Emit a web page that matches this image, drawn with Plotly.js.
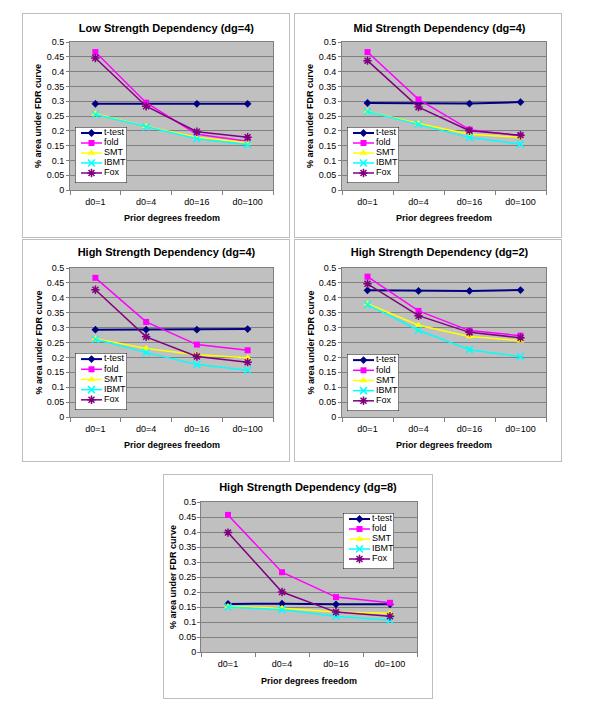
<!DOCTYPE html>
<html>
<head>
<meta charset="utf-8">
<script src="https://cdn.plot.ly/plotly-3.0.1.min.js"></script>
<style>
  html, body { margin: 0; padding: 0; background: #ffffff; }
  body { width: 600px; height: 713px; position: relative; overflow: hidden; }
  .panel { position: absolute; border: 1px solid #bdbdbd; background: #ffffff; }
</style>
</head>
<body>
<div id="p1" class="panel"></div>
<div id="p2" class="panel"></div>
<div id="p3" class="panel"></div>
<div id="p4" class="panel"></div>
<div id="p5" class="panel"></div>
<script>
// ---------------- DATA ----------------
const categories = ['d0=1', 'd0=4', 'd0=16', 'd0=100'];
const seriesNames = ['t-test', 'fold', 'SMT', 'IBMT', 'Fox'];

// each row follows seriesNames order: t-test, fold, SMT, IBMT, Fox
const lowDg4 = [
  [0.291, 0.291, 0.291, 0.291],
  [0.466, 0.295, 0.188, 0.165],
  [0.258, 0.215, 0.178, 0.160],
  [0.255, 0.213, 0.173, 0.153],
  [0.446, 0.283, 0.197, 0.178]
];
const midDg4 = [
  [0.294, 0.294, 0.292, 0.297],
  [0.466, 0.306, 0.204, 0.183],
  [0.265, 0.225, 0.188, 0.178],
  [0.265, 0.222, 0.177, 0.155],
  [0.437, 0.280, 0.200, 0.185]
];
const highDg4 = [
  [0.293, 0.293, 0.293, 0.295],
  [0.467, 0.319, 0.243, 0.224],
  [0.263, 0.230, 0.209, 0.199],
  [0.261, 0.216, 0.176, 0.157],
  [0.427, 0.269, 0.203, 0.184]
];
const highDg2 = [
  [0.425, 0.423, 0.423, 0.426],
  [0.471, 0.356, 0.290, 0.273],
  [0.380, 0.308, 0.270, 0.256],
  [0.377, 0.291, 0.226, 0.202],
  [0.447, 0.340, 0.284, 0.266]
];
const highDg8 = [
  [0.160, 0.161, 0.159, 0.159],
  [0.457, 0.266, 0.183, 0.164],
  [0.152, 0.146, 0.133, 0.129],
  [0.150, 0.141, 0.119, 0.106],
  [0.398, 0.200, 0.133, 0.119]
];
const panelTitles = [
  'Low Strength Dependency (dg=4)',
  'Mid Strength Dependency (dg=4)',
  'High Strength Dependency (dg=4)',
  'High Strength Dependency (dg=2)',
  'High Strength Dependency (dg=8)'
];
const xAxisTitle = 'Prior degrees freedom';
const yAxisTitle = '% area under FDR curve';

// ---------------- STYLE ----------------
const seriesColors = ['#000080', '#FF00FF', '#FFFF00', '#00FFFF', '#800080'];
const seriesSymbols = ['diamond', 'square', 'triangle-up', 'x-thin-open', 'asterisk-open'];
const seriesSizes = [6, 6, 7, 7, 7];
const FONT = 'Liberation Sans, Arial, sans-serif';

// panel geometry: outer box and inner plot-area margins, legend box (px, relative to panel content)
const panels = [
  {id: 'p1', data: lowDg4,  left: 22,  top: 13,  w: 266, h: 223, m: {l: 47, r: 16, t: 28, b: 47}, titleX: 0.475, titleY: 14, yTitleShift: -32, xTitleShift: -28, yLabelStandoff: 0, leg: {x: 52, y: 113, w: 52, h: 56}},
  {id: 'p2', data: midDg4,  left: 294, top: 13,  w: 266, h: 223, m: {l: 47, r: 15, t: 28, b: 47}, titleX: 0.478, titleY: 14, yTitleShift: -32, xTitleShift: -28, yLabelStandoff: 0, leg: {x: 52, y: 113, w: 52, h: 56}},
  {id: 'p3', data: highDg4, left: 22,  top: 239, w: 266, h: 221, m: {l: 47, r: 16, t: 28, b: 44}, titleX: 0.475, titleY: 12.5, yTitleShift: -32, xTitleShift: -28, yLabelStandoff: 0, leg: {x: 52, y: 113, w: 52, h: 57}},
  {id: 'p4', data: highDg2, left: 294, top: 239, w: 266, h: 221, m: {l: 47, r: 15, t: 28, b: 44}, titleX: 0.478, titleY: 12.5, yTitleShift: -32, xTitleShift: -28, yLabelStandoff: 0, leg: {x: 52, y: 114, w: 52, h: 57}},
  {id: 'p5', data: highDg8, left: 163, top: 474, w: 268, h: 223, m: {l: 37, r: 15, t: 27, b: 46}, titleX: 0.495, titleY: 12.5, yTitleShift: -28, xTitleShift: -29, yLabelStandoff: -1, leg: {x: 179, y: 38, w: 51, h: 56}}
];

panels.forEach((p, pi) => {
  const el = document.getElementById(p.id);
  el.style.left = p.left + 'px';
  el.style.top = p.top + 'px';
  el.style.width = p.w + 'px';
  el.style.height = p.h + 'px';

  const pw = p.w - p.m.l - p.m.r;
  const ph = p.h - p.m.t - p.m.b;
  // legend box domain in paper fractions (relative to plot area)
  const lx0 = (p.leg.x - p.m.l) / pw;
  const lx1 = (p.leg.x + p.leg.w - p.m.l) / pw;
  const ly1 = 1 - (p.leg.y - p.m.t) / ph;
  const ly0 = 1 - (p.leg.y + p.leg.h - p.m.t) / ph;
  const legTop = -0.6, legBottom = seriesNames.length;

  const traces = [];
  seriesNames.forEach((name, si) => {
    traces.push({
      type: 'scatter', mode: 'lines+markers', name: name,
      x: categories, y: p.data[si],
      xaxis: 'x', yaxis: 'y',
      line: {color: seriesColors[si], width: si === 0 ? 2 : 1.5},
      marker: {symbol: seriesSymbols[si], size: seriesSizes[si], color: seriesColors[si],
               line: {color: seriesColors[si], width: (si >= 3) ? 1.5 : 0}},
      showlegend: false, hoverinfo: 'skip'
    });
  });
  // legend (drawn in its own little axes): white box first
  traces.push({
    type: 'scatter', mode: 'lines', xaxis: 'x2', yaxis: 'y2',
    x: [0, p.leg.w, p.leg.w, 0, 0], y: [legTop, legTop, legBottom, legBottom, legTop],
    fill: 'toself', fillcolor: '#ffffff', line: {color: '#000000', width: 1},
    showlegend: false, hoverinfo: 'skip', cliponaxis: false
  });
  seriesNames.forEach((name, si) => {
    traces.push({
      type: 'scatter', mode: 'lines', x: [6, 27], y: [si, si],
      xaxis: 'x2', yaxis: 'y2',
      line: {color: seriesColors[si], width: si === 0 ? 2 : 1.5},
      showlegend: false, hoverinfo: 'skip'
    });
    traces.push({
      type: 'scatter', mode: 'markers', x: [16.5], y: [si],
      xaxis: 'x2', yaxis: 'y2',
      marker: {symbol: seriesSymbols[si], size: seriesSizes[si], color: seriesColors[si],
               line: {color: seriesColors[si], width: (si >= 3) ? 1.5 : 0}},
      showlegend: false, hoverinfo: 'skip'
    });
  });
  traces.push({
    type: 'scatter', mode: 'text', x: seriesNames.map(() => 29), y: seriesNames.map((n, i) => i),
    text: seriesNames, textposition: 'middle right',
    textfont: {family: FONT, size: 9, color: '#000000'},
    xaxis: 'x2', yaxis: 'y2', showlegend: false, hoverinfo: 'skip'
  });

  const layout = {
    width: p.w, height: p.h,
    margin: p.m,
    paper_bgcolor: '#ffffff',
    plot_bgcolor: '#c0c0c0',
    showlegend: false,
    font: {family: FONT, size: 9, color: '#000000'},
    title: {
      text: panelTitles[pi], xref: 'paper', x: p.titleX, xanchor: 'center',
      yref: 'container', y: 1 - p.titleY / p.h, yanchor: 'middle',
      font: {family: FONT, size: 11, weight: 'bold', color: '#000000'}
    },
    xaxis: {
      type: 'category', range: [-0.5, 3.5], domain: [0, 1],
      showgrid: false, zeroline: false,
      showline: true, linecolor: '#808080', linewidth: 1, mirror: true,
      ticks: 'outside', tickson: 'boundaries', ticklen: 4, tickcolor: '#808080',
      ticklabelstandoff: 3,
      tickfont: {family: FONT, size: 9, color: '#000000'},
      fixedrange: true
    },
    yaxis: {
      range: [0, 0.5], dtick: 0.05, tick0: 0, domain: [0, 1],
      showgrid: true, gridcolor: '#808080', gridwidth: 1, zeroline: false,
      showline: true, linecolor: '#808080', linewidth: 1, mirror: true,
      ticks: 'outside', ticklen: 3, tickcolor: '#808080',
      ticklabelstandoff: p.yLabelStandoff,
      tickfont: {family: FONT, size: 9, color: '#000000'},
      fixedrange: true
    },
    xaxis2: {
      domain: [lx0, lx1], anchor: 'y2', range: [0, p.leg.w],
      visible: false, showgrid: false, zeroline: false, fixedrange: true
    },
    yaxis2: {
      domain: [ly0, ly1], anchor: 'x2', range: [legBottom, legTop],
      visible: false, showgrid: false, zeroline: false, fixedrange: true
    },
    annotations: [
      {text: xAxisTitle, xref: 'paper', yref: 'paper', x: 0.5, y: 0, yshift: p.xTitleShift,
       xanchor: 'center', yanchor: 'middle', showarrow: false,
       font: {family: FONT, size: 9, weight: 'bold', color: '#000000'}},
      {text: yAxisTitle, xref: 'paper', yref: 'paper', x: 0, y: 0.5, xshift: p.yTitleShift,
       xanchor: 'center', yanchor: 'middle', textangle: -90, showarrow: false,
       font: {family: FONT, size: 9, weight: 'bold', color: '#000000'}}
    ]
  };

  Plotly.newPlot(el, traces, layout, {staticPlot: true, displayModeBar: false});
});
</script>
</body>
</html>
